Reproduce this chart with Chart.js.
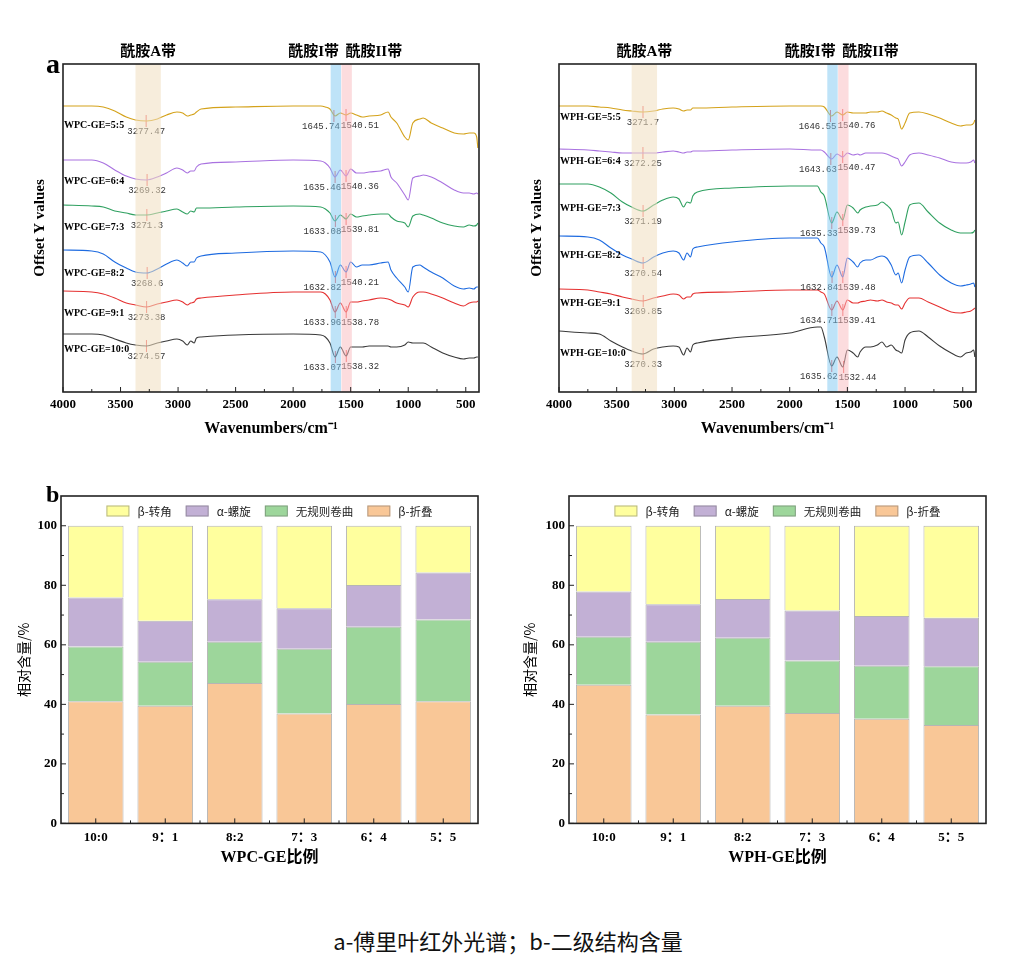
<!DOCTYPE html>
<html>
<head>
<meta charset="utf-8">
<script src="https://cdn.jsdelivr.net/npm/chart.js@4.4.1/dist/chart.umd.min.js"></script>
<style>
  body { margin: 0; background: #fff; width: 1016px; height: 964px; position: relative; overflow: hidden; }
  canvas { position: absolute; }
  #caption { position: absolute; left: 0; width: 1016px; top: 927px; text-align: center;
             font: 22px "Noto Sans CJK SC", sans-serif; line-height: 26px; color: #111; }
</style>
</head>
<body>
<canvas id="irWPC" width="500" height="460" style="left:0;top:0"></canvas>
<canvas id="irWPH" width="516" height="460" style="left:500px;top:0"></canvas>
<canvas id="barWPC" width="500" height="440" style="left:0;top:460px"></canvas>
<canvas id="barWPH" width="516" height="440" style="left:500px;top:460px"></canvas>
<div id="caption">a-傅里叶红外光谱；b-二级结构含量</div>
<script>
// ---- data ----
const ratios = ['5:5', '6:4', '7:3', '8:2', '9:1', '10:0'];

// FTIR, WPC-GE: wavenumber grid (cm-1) and offset curves, top to bottom
const wnWPC = [4000, 3750, 3650, 3550, 3450, 3370, 3272, 3180, 3100, 3010,
  2960, 2920, 2890, 2860, 2840, 2800, 2500, 2000, 1760, 1720,
  1680, 1636, 1590, 1540, 1500, 1450, 1400, 1340, 1240, 1175,
  1150, 1100, 1030, 1000, 960, 900, 870, 800, 700, 600,
  520, 470, 430, 405, 395];
const wpc55 = [286, 286, 285, 281, 275, 272, 271, 273, 277, 280, 279, 276, 277, 278, 280, 283, 285, 286, 286, 285,
  283, 276, 279, 277, 279, 277, 275, 276, 277, 280, 275, 269, 255, 252, 269, 273, 274, 269, 264, 259, 258, 259, 259, 255, 244];
const wpc64 = [232, 232, 229, 222, 216, 213, 212, 215, 219, 224, 222, 219, 221, 221, 225, 228, 230, 232, 231, 229,
  224, 215, 222, 216, 223, 219, 219, 220, 221, 223, 215, 209, 197, 192, 214, 216, 217, 215, 209, 202, 199, 199, 198, 199, 198];
const wpc73 = [187, 186, 185, 181, 179, 177, 177, 179, 181, 183, 180, 178, 181, 180, 184, 184, 185, 186, 185, 183,
  179, 171, 177, 173, 178, 175, 176, 177, 178, 178, 175, 171, 169, 165, 176, 178, 177, 174, 169, 166, 165, 167, 166, 167, 169];
const wpc82 = [142, 141, 138, 130, 124, 120, 119, 123, 128, 132, 129, 126, 130, 130, 134, 136, 139, 141, 140, 137,
  130, 115, 127, 120, 130, 125, 127, 127, 129, 130, 122, 114, 105, 100, 125, 127, 125, 120, 114, 106, 103, 104, 103, 105, 105];
const wpc91 = [101, 100, 98, 94, 89, 87, 85, 88, 90, 92, 90, 87, 89, 90, 93, 94, 97, 100, 100, 98,
  92, 80, 89, 80, 90, 90, 91, 92, 94, 93, 92, 89, 87, 85, 95, 100, 100, 98, 94, 89, 86, 89, 90, 90, 91];
const wpc100 = [58, 58, 57, 53, 49, 47, 46, 49, 51, 53, 51, 47, 51, 49, 54, 55, 57, 58, 57, 55,
  49, 35, 45, 36, 45, 45, 45, 46, 46, 46, 45, 45, 47, 50, 49, 49, 49, 45, 39, 35, 33, 34, 34, 35, 35];

// FTIR, WPH-GE
const wnWPH = [4000, 3750, 3650, 3550, 3450, 3370, 3272, 3180, 3100, 3010,
  2960, 2920, 2890, 2860, 2840, 2800, 2500, 2000, 1760, 1730,
  1700, 1636, 1590, 1540, 1500, 1450, 1410, 1390, 1340, 1300,
  1240, 1200, 1160, 1120, 1080, 1060, 1030, 1000, 960, 880,
  800, 700, 600, 520, 470, 430, 405, 395];
const wph55 = [286, 286, 285, 284, 282, 281, 280, 281, 283, 284, 283, 281, 282, 282, 284, 284, 285, 286, 286, 286,
  285, 276, 280, 277, 280, 279, 279, 279, 279, 280, 280, 281, 279, 277, 274, 273, 263, 269, 279, 280,
  278, 274, 269, 266, 267, 267, 269, 272];
const wph64 = [243, 242, 241, 240, 239, 239, 239, 239, 240, 241, 240, 239, 240, 240, 241, 241, 242, 243, 242, 242,
  240, 233, 238, 235, 239, 237, 238, 237, 239, 239, 239, 239, 238, 236, 234, 233, 226, 230, 237, 239,
  237, 234, 230, 229, 229, 230, 232, 229];
const wph73 = [208, 208, 205, 199, 190, 185, 181, 187, 192, 195, 193, 185, 190, 189, 196, 200, 204, 206, 206, 200,
  196, 169, 180, 172, 187, 184, 179, 182, 185, 186, 187, 190, 187, 182, 169, 170, 157, 170, 187, 189,
  180, 169, 162, 159, 159, 159, 160, 162];
const wph82 = [156, 155, 152, 144, 137, 133, 129, 135, 139, 141, 139, 132, 139, 135, 143, 145, 150, 154, 154, 149,
  145, 115, 127, 115, 134, 130, 125, 129, 132, 132, 135, 136, 134, 127, 117, 119, 109, 122, 135, 137,
  129, 117, 109, 106, 107, 108, 109, 105];
const wph91 = [103, 102, 100, 98, 95, 93, 91, 94, 96, 98, 97, 93, 95, 95, 98, 99, 100, 102, 102, 100,
  98, 82, 91, 82, 92, 89, 89, 90, 91, 92, 91, 92, 90, 89, 87, 87, 83, 89, 94, 94,
  90, 85, 80, 79, 80, 81, 83, 84];
const wph100 = [61, 59, 58, 51, 45, 41, 38, 43, 45, 46, 45, 37, 44, 40, 47, 49, 54, 59, 65, 65,
  55, 26, 35, 25, 42, 39, 35, 40, 45, 45, 47, 50, 45, 47, 42, 41, 39, 52, 59, 61,
  55, 46, 39, 35, 39, 40, 42, 35];

// marked peaks (cm-1), top curve first
const peakA_WPC = [3277.47, 3269.32, 3271.3, 3268.6, 3273.38, 3274.57];
const peakI_WPC = [1645.74, 1635.46, 1633.08, 1632.82, 1633.96, 1633.07];
const peakII_WPC = [1540.51, 1540.36, 1539.81, 1540.21, 1538.78, 1538.32];
const peakA_WPH = [3271.7, 3272.25, 3271.19, 3270.54, 3269.85, 3270.33];
const peakI_WPH = [1646.55, 1643.63, 1635.33, 1632.84, 1634.71, 1635.62];
const peakII_WPH = [1540.76, 1540.47, 1539.73, 1539.48, 1539.41, 1532.44];

// curve name tags (offset value of each tag)
const tagY_WPC = [267, 211, 165, 119, 79, 43];
const tagY_WPH = [275, 231, 184, 137, 89, 39];

// amide bands (cm-1)
const bandA = [3150, 3370];
const bandI = [1584, 1674];
const bandII = [1490, 1580];

const waveTicks = [4000, 3500, 3000, 2500, 2000, 1500, 1000, 500];
const waveMinor = [3750, 3250, 2750, 2250, 1750, 1250, 750];

// secondary structure (%)
const barCats = ['10:0', '9：1', '8:2', '7：3', '6：4', '5：5'];
const wpcSheet = [41.0, 39.5, 47.2, 36.9, 40.1, 41.0];
const wpcCoil = [18.4, 14.8, 13.8, 21.8, 26.0, 27.5];
const wpcHelix = [16.5, 13.8, 14.3, 13.6, 14.0, 15.8];
const wpcTurn = [24.1, 31.9, 24.7, 27.7, 19.9, 15.7];
const wphSheet = [46.6, 36.6, 39.5, 37.1, 35.2, 33.1];
const wphCoil = [16.1, 24.4, 22.9, 17.6, 17.8, 19.7];
const wphHelix = [15.2, 12.6, 13.0, 16.8, 16.7, 16.3];
const wphTurn = [22.1, 26.4, 24.6, 28.5, 30.3, 30.9];
const pctTicks = [0, 20, 40, 60, 80, 100];
const pctMinor = [10, 30, 50, 70, 90];

// ---- styles ----
const serif = '"Liberation Serif", "Noto Sans CJK SC", serif';
const cjk = '"Noto Sans CJK SC", sans-serif';
const mono = '"Liberation Mono", "DejaVu Sans Mono", monospace';
const curveColors = ['#D4A21A', '#A972E0', '#2FA060', '#1E6BE0', '#E53030', '#3A3A3A'];

function nearestIdx(grid, w) {
    let best = 0;
    grid.forEach((g, i) => { if (Math.abs(g - w) < Math.abs(grid[best] - w)) best = i; });
    return best;
}

// frame + inward ticks
function framePlugin(cfg) {
    return {
        id: 'frame',
        afterDraw(chart) {
            const { ctx, chartArea: a, scales: { x, y } } = chart;
            ctx.save();
            ctx.strokeStyle = '#222';
            ctx.lineWidth = 1;
            const tick = (px, len, horiz) => {
                ctx.beginPath();
                if (horiz) { ctx.moveTo(px, a.bottom); ctx.lineTo(px, a.bottom - len); }
                else { ctx.moveTo(a.left, px); ctx.lineTo(a.left + len, px); }
                ctx.stroke();
            };
            if (cfg.xMajor) cfg.xMajor.forEach(v => tick(x.getPixelForValue(v), 5, true));
            if (cfg.xMinor) cfg.xMinor.forEach(v => tick(x.getPixelForValue(v), 3, true));
            if (cfg.xCats) {
                const n = chart.data.labels.length;
                const w = (a.right - a.left) / n;
                for (let i = 0; i < n; i++) tick(x.getPixelForTick(i), 5, true);
                for (let i = 1; i < n; i++) tick(a.left + i * w, 3, true);
            }
            if (cfg.yMajor) cfg.yMajor.forEach(v => tick(y.getPixelForValue(v), 5, false));
            if (cfg.yMinor) cfg.yMinor.forEach(v => tick(y.getPixelForValue(v), 3, false));
            ctx.lineWidth = 1.6;
            ctx.strokeRect(a.left, a.top, a.right - a.left, a.bottom - a.top);
            if (cfg.letter) {
                ctx.fillStyle = '#000';
                ctx.font = `bold ${cfg.letter.size}px ${serif}`;
                ctx.textAlign = 'left';
                ctx.textBaseline = 'alphabetic';
                ctx.fillText(cfg.letter.text, cfg.letter.x, cfg.letter.y);
            }
            ctx.restore();
        }
    };
}

// peak labels, curve tags, amide bands and their headings
function spectraPlugin(tags, tagY) {
    return {
        id: 'spectraDeco',
        afterDatasetsDraw(chart) {
            const { ctx, chartArea: a, scales: { x, y } } = chart;
            const mi = chart.data.datasets.length - 1;
            const meta = chart.getDatasetMeta(mi);
            const marks = chart.data.datasets[mi].data;
            ctx.save();
            ctx.font = `9px ${mono}`;
            ctx.fillStyle = '#333';
            ctx.textBaseline = 'middle';
            marks.forEach((m, j) => {
                const pt = meta.data[j];
                let dx = 0;
                ctx.textAlign = 'center';
                if (m.kind === 'I') { ctx.textAlign = 'right'; dx = 6; }
                if (m.kind === 'II') { ctx.textAlign = 'left'; dx = -5; }
                ctx.fillText(String(m.x), pt.x + dx, pt.y + 11);
            });
            ctx.font = `bold 10px ${serif}`;
            ctx.fillStyle = '#000';
            ctx.textAlign = 'left';
            tags.forEach((t, i) => ctx.fillText(t, a.left + 1, y.getPixelForValue(tagY[i])));

            const bands = [[bandA, 'rgba(241,223,193,0.56)'], [bandI, 'rgba(125,199,241,0.5)'], [bandII, 'rgba(249,185,189,0.5)']];
            bands.forEach(([b, c]) => {
                const l = x.getPixelForValue(b[1]), r = x.getPixelForValue(b[0]);
                ctx.fillStyle = c;
                ctx.fillRect(l, a.top, r - l, a.bottom - a.top);
            });
            ctx.fillStyle = '#000';
            ctx.font = `bold 15px ${serif}`;
            const hy = a.top - 12;
            ctx.textAlign = 'center';
            ctx.fillText('酰胺A带', (x.getPixelForValue(bandA[0]) + x.getPixelForValue(bandA[1])) / 2, hy);
            ctx.textAlign = 'right';
            ctx.fillText('酰胺I带', x.getPixelForValue(bandI[0]) - 2, hy);
            ctx.textAlign = 'left';
            ctx.fillText('酰胺II带', x.getPixelForValue(bandII[1]) + 4, hy);
            ctx.restore();
        }
    };
}

function spectraChart(id, grid, curves, prefix, tagY, pA, pI, pII, lay) {
    const datasets = curves.map((vals, i) => ({
        label: prefix + ratios[i],
        data: grid.map((w, k) => ({ x: w, y: vals[k] })),
        borderColor: curveColors[i],
        borderWidth: 1.1,
        pointRadius: 0,
        cubicInterpolationMode: 'monotone'
    }));
    const marks = [];
    curves.forEach((vals, i) => {
        marks.push({ x: pA[i], y: vals[nearestIdx(grid, pA[i])], kind: 'A' });
        marks.push({ x: pI[i], y: vals[nearestIdx(grid, pI[i])], kind: 'I' });
        marks.push({ x: pII[i], y: vals[nearestIdx(grid, pII[i])], kind: 'II' });
    });
    datasets.push({
        label: 'peaks',
        data: marks,
        showLine: false,
        pointStyle: 'line',
        rotation: 90,
        pointRadius: 6,
        pointBorderColor: '#F05A5A',
        pointBorderWidth: 1
    });
    new Chart(document.getElementById(id), {
        type: 'line',
        data: { datasets },
        options: {
            responsive: false,
            animation: false,
            devicePixelRatio: 1,
            layout: { padding: { left: 0, top: 64, right: lay.right, bottom: 18 } },
            plugins: { legend: { display: false }, tooltip: { enabled: false } },
            scales: {
                x: {
                    type: 'linear', reverse: true, min: 385, max: 4000,
                    afterBuildTicks: s => { s.ticks = waveTicks.map(v => ({ value: v })); },
                    afterFit: s => { s.height = 50; },
                    grid: { display: false, drawTicks: false },
                    border: { display: false },
                    ticks: { padding: 5, color: '#000', autoSkip: false, maxRotation: 0,
                             font: { family: serif, size: 13, weight: 'bold' }, callback: v => String(v) },
                    title: { display: true, text: 'Wavenumbers/cm⁻¹', color: '#000',
                             font: { family: serif, size: 16, weight: 'bold' }, padding: { top: 0, bottom: 4 } }
                },
                y: {
                    min: 0, max: 328,
                    afterFit: s => { s.width = lay.left; },
                    grid: { display: false },
                    border: { display: false },
                    ticks: { display: false },
                    title: { display: true, text: 'Offset Y values', color: '#000',
                             font: { family: serif, size: 15, weight: 'bold' }, padding: { top: lay.titlePad, bottom: 0 } }
                }
            }
        },
        plugins: [spectraPlugin(curves.map((c, i) => prefix + ratios[i]), tagY),
                  framePlugin({ xMajor: waveTicks, xMinor: waveMinor, letter: lay.letter })]
    });
}

// legend drawn inside the plot, top row
function barLegendPlugin() {
    return {
        id: 'barLegend',
        afterDraw(chart) {
            const { ctx, chartArea: a } = chart;
            const items = chart.data.datasets.slice().reverse();
            ctx.save();
            ctx.font = `11.5px ${cjk}`;
            const boxW = 23, boxH = 11, gap = 8, space = 14;
            const widths = items.map(d => boxW + gap + ctx.measureText(d.label).width);
            const total = widths.reduce((s, w) => s + w, 0) + space * (items.length - 1);
            let x0 = (a.left + a.right) / 2 - total / 2;
            const yc = a.top + 15;
            items.forEach((d, i) => {
                ctx.fillStyle = d.backgroundColor;
                ctx.fillRect(x0, yc - boxH / 2, boxW, boxH);
                ctx.strokeStyle = d.borderColor;
                ctx.lineWidth = 1;
                ctx.strokeRect(x0 + 0.5, yc - boxH / 2 + 0.5, boxW - 1, boxH - 1);
                ctx.fillStyle = '#222';
                ctx.textAlign = 'left';
                ctx.textBaseline = 'middle';
                ctx.fillText(d.label, x0 + boxW + gap, yc + 0.5);
                x0 += widths[i] + space;
            });
            ctx.restore();
        }
    };
}

function barChart(id, sheet, coil, helix, turn, xTitle, lay) {
    const edge = 'rgba(90,90,90,0.45)';
    const ds = (label, data, color) => ({ label, data, backgroundColor: color, borderColor: edge, borderWidth: 1 });
    new Chart(document.getElementById(id), {
        type: 'bar',
        data: {
            labels: barCats,
            datasets: [
                ds('β-折叠', sheet, '#F9C797'),
                ds('无规则卷曲', coil, '#9DD69B'),
                ds('α-螺旋', helix, '#C2B0D5'),
                ds('β-转角', turn, '#FFFF9E')
            ]
        },
        options: {
            responsive: false,
            animation: false,
            devicePixelRatio: 1,
            barPercentage: 0.8,
            categoryPercentage: 1.0,
            layout: { padding: { left: 0, top: 36, right: lay.right, bottom: 26.6 } },
            plugins: { legend: { display: false }, tooltip: { enabled: false } },
            scales: {
                x: {
                    stacked: true,
                    afterFit: s => { s.height = 50; },
                    grid: { display: false, drawTicks: false },
                    border: { display: false },
                    ticks: { padding: 6, color: '#000', font: { family: serif, size: 13, weight: 'bold' } },
                    title: { display: true, text: xTitle, color: '#000',
                             font: { family: serif, size: 16, weight: 'bold' }, padding: { top: 0, bottom: 5.5 } }
                },
                y: {
                    stacked: true, min: 0, max: 110,
                    afterBuildTicks: s => { s.ticks = pctTicks.map(v => ({ value: v })); },
                    afterFit: s => { s.width = lay.left; },
                    grid: { display: false, drawTicks: false },
                    border: { display: false },
                    ticks: { padding: 4, color: '#000', font: { family: serif, size: 13, weight: 'bold' } },
                    title: { display: true, text: '相对含量/%', color: '#000',
                             font: { family: cjk, size: 14 }, padding: { top: lay.titlePad, bottom: 0 } }
                }
            }
        },
        plugins: [framePlugin({ xCats: true, yMajor: pctTicks, yMinor: pctMinor, letter: lay.letter }), barLegendPlugin()]
    });
}

spectraChart('irWPC', wnWPC, [wpc55, wpc64, wpc73, wpc82, wpc91, wpc100], 'WPC-GE=', tagY_WPC,
    peakA_WPC, peakI_WPC, peakII_WPC,
    { left: 63, right: 21, titlePad: 31, letter: { text: 'a', x: 46, y: 73, size: 28 } });
spectraChart('irWPH', wnWPH, [wph55, wph64, wph73, wph82, wph91, wph100], 'WPH-GE=', tagY_WPH,
    peakA_WPH, peakI_WPH, peakII_WPH,
    { left: 59, right: 40, titlePad: 28 });

barChart('barWPC', wpcSheet, wpcCoil, wpcHelix, wpcTurn, 'WPC-GE比例',
    { left: 61, right: 22, titlePad: 15, letter: { text: 'b', x: 46, y: 42, size: 24 } });
barChart('barWPH', wphSheet, wphCoil, wphHelix, wphTurn, 'WPH-GE比例',
    { left: 69, right: 30, titlePad: 21 });
</script>
</body>
</html>
